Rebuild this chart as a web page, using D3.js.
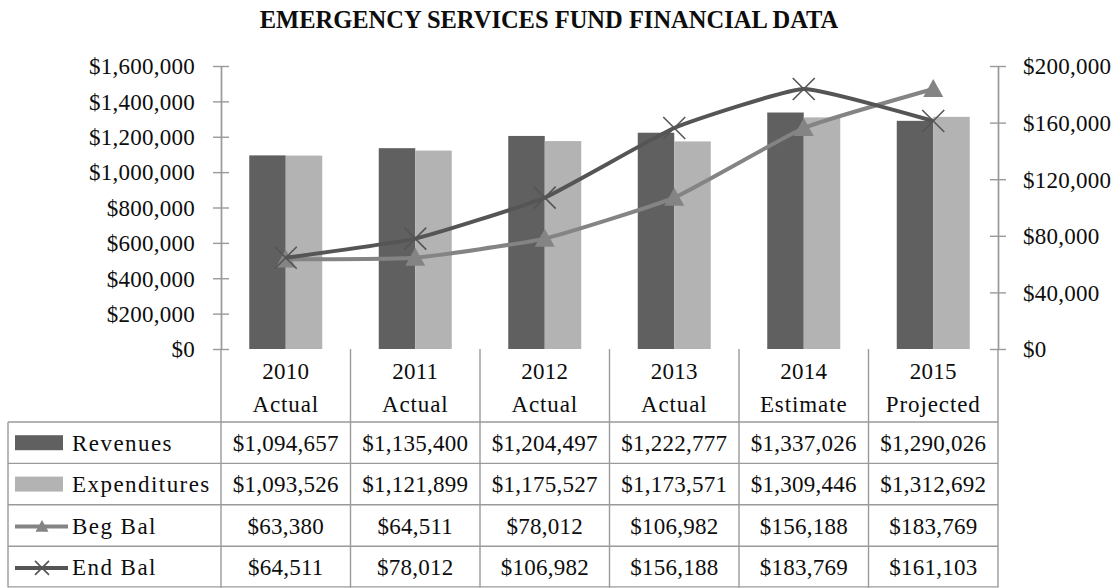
<!DOCTYPE html>
<html>
<head>
<meta charset="utf-8">
<script src="https://cdn.jsdelivr.net/npm/d3@7"></script>
<style>
  html, body { margin: 0; padding: 0; background: #fff; }
  svg { display: block; font-family: "Liberation Serif", "Times New Roman", serif; }
</style>
</head>
<body>
<svg id="chart" width="1118" height="588"></svg>
<script>
// Emergency Services Fund — revenues/expenditures (bars, left axis) and balances (lines, right axis)
const years = ["2010", "2011", "2012", "2013", "2014", "2015"];
const yearStatus = ["Actual", "Actual", "Actual", "Actual", "Estimate", "Projected"];
const revenues = [1094657, 1135400, 1204497, 1222777, 1337026, 1290026];
const expenditures = [1093526, 1121899, 1175527, 1173571, 1309446, 1312692];
const begBal = [63380, 64511, 78012, 106982, 156188, 183769];
const endBal = [64511, 78012, 106982, 156188, 183769, 161103];
const leftTicks = [0, 200000, 400000, 600000, 800000, 1000000, 1200000, 1400000, 1600000];
const rightTicks = [0, 40000, 80000, 120000, 160000, 200000];
const titleText = "EMERGENCY SERVICES FUND FINANCIAL DATA";

const barSeries = [
  { name: "Revenues", values: revenues, color: "#606060" },
  { name: "Expenditures", values: expenditures, color: "#b3b3b3" }
];
const lineSeries = [
  { name: "Beg Bal", values: begBal, color: "#848484", marker: "triangle" },
  { name: "End Bal", values: endBal, color: "#555555", marker: "cross" }
];

const svg = d3.select("#chart");
const plot = { left: 221, right: 998, top: 66, bottom: 349 };
const gridColor = "#9a9a9a";
const textColor = "#0d0d0d";
const fontSize = 23;
const numSpacing = "0.25px";
const wordSpacing = "1.45px";
const fmt = d3.format("$,");

const x = d3.scaleBand().domain(years).range([plot.left, plot.right]).padding(0);
const xSub = d3.scaleBand().domain(barSeries.map(s => s.name))
  .range([0, x.bandwidth()]).paddingInner(0).paddingOuter(0.774);
const y = d3.scaleLinear().domain([0, 1600000]).range([plot.bottom, plot.top]);
const y2 = d3.scaleLinear().domain([0, 200000]).range([plot.bottom, plot.top]);

// Title
svg.append("text")
  .attr("x", 549).attr("y", 28)
  .attr("text-anchor", "middle")
  .attr("font-weight", "bold")
  .attr("font-size", 24.5)
  .attr("fill", textColor)
  .text(titleText);

// Bars
barSeries.forEach(s => {
  svg.append("g").selectAll("rect")
    .data(s.values)
    .join("rect")
    .attr("x", (d, i) => x(years[i]) + xSub(s.name))
    .attr("width", xSub.bandwidth())
    .attr("y", d => y(d))
    .attr("height", d => y(0) - y(d))
    .attr("fill", s.color);
});

// Axes (ticks cross the axis line)
function styleAxis(g) {
  g.select(".domain").attr("stroke", gridColor).attr("stroke-width", 1.4);
  g.selectAll(".tick line").attr("stroke", gridColor).attr("stroke-width", 1.4);
  g.selectAll(".tick text")
    .attr("font-family", "Liberation Serif, serif")
    .attr("font-size", fontSize).attr("fill", textColor)
    .attr("letter-spacing", numSpacing)
    .attr("dy", "0.34em");
}
svg.append("g").attr("transform", `translate(${plot.left},0)`)
  .call(d3.axisLeft(y).tickValues(leftTicks).tickSize(8).tickSizeOuter(0).tickPadding(18).tickFormat(fmt))
  .call(styleAxis);
svg.append("g").attr("transform", `translate(${plot.left},0)`)
  .call(d3.axisRight(y).tickValues(leftTicks).tickSize(8).tickSizeOuter(0).tickFormat(""))
  .call(styleAxis);
svg.append("g").attr("transform", `translate(${plot.right},0)`)
  .call(d3.axisRight(y2).tickValues(rightTicks).tickSize(8).tickSizeOuter(0).tickPadding(17).tickFormat(fmt))
  .call(styleAxis);
svg.append("g").attr("transform", `translate(${plot.right},0)`)
  .call(d3.axisLeft(y2).tickValues(rightTicks).tickSize(8).tickSizeOuter(0).tickFormat(""))
  .call(styleAxis);

// Marker drawing
function drawMarker(g, type, cx, cy, size, color) {
  if (type === "triangle") {
    const h = size * 0.9;
    g.append("path")
      .attr("d", `M${cx},${cy - h * 0.55}L${cx + size / 2},${cy + h * 0.45}L${cx - size / 2},${cy + h * 0.45}Z`)
      .attr("fill", color);
  } else {
    const r = size / 2;
    g.append("path")
      .attr("d", `M${cx - r},${cy - r}L${cx + r},${cy + r}M${cx - r},${cy + r}L${cx + r},${cy - r}`)
      .attr("stroke", color).attr("stroke-width", 1.6).attr("fill", "none");
  }
}

// Balance lines (lightly smoothed)
const line = d3.line()
  .x((d, i) => x(years[i]) + x.bandwidth() / 2)
  .y(d => y2(d))
  .curve(d3.curveCardinal.tension(0.6));

lineSeries.forEach(s => {
  const g = svg.append("g");
  g.append("path")
    .attr("d", line(s.values))
    .attr("fill", "none")
    .attr("stroke", s.color)
    .attr("stroke-width", 4)
    .attr("stroke-linejoin", "round");
  s.values.forEach((v, i) => {
    drawMarker(g, s.marker, x(years[i]) + x.bandwidth() / 2, y2(v), s.marker === "triangle" ? 20 : 22, s.color);
  });
});

// Data table
const table = { left: 8, headerBottom: 422, rowH: 41.4 };
const rowTops = [0, 1, 2, 3].map(i => table.headerBottom + i * table.rowH);
const tableBottom = table.headerBottom + 4 * table.rowH;
const tg = svg.append("g");

// Horizontal grid lines
tg.append("line").attr("x1", table.left).attr("x2", plot.right)
  .attr("y1", table.headerBottom).attr("y2", table.headerBottom);
rowTops.slice(1).forEach(t => {
  tg.append("line").attr("x1", table.left).attr("x2", plot.right).attr("y1", t).attr("y2", t);
});
tg.append("line").attr("x1", table.left).attr("x2", plot.right)
  .attr("y1", tableBottom - 0.7).attr("y2", tableBottom - 0.7);
// Vertical grid lines
tg.append("line").attr("x1", table.left).attr("x2", table.left)
  .attr("y1", table.headerBottom).attr("y2", tableBottom);
years.forEach(yr => {
  tg.append("line").attr("x1", x(yr)).attr("x2", x(yr))
    .attr("y1", plot.bottom).attr("y2", tableBottom);
});
tg.append("line").attr("x1", plot.right).attr("x2", plot.right)
  .attr("y1", plot.bottom).attr("y2", tableBottom);
tg.selectAll("line").attr("stroke", gridColor).attr("stroke-width", 1.4);

// Header cells
years.forEach((yr, i) => {
  const cx = x(yr) + x.bandwidth() / 2;
  tg.append("text").attr("x", cx).attr("y", 379)
    .attr("text-anchor", "middle").attr("font-size", fontSize).attr("letter-spacing", numSpacing)
    .attr("fill", textColor).text(yr);
  tg.append("text").attr("x", cx).attr("y", 412)
    .attr("text-anchor", "middle").attr("font-size", fontSize).attr("letter-spacing", "0.9px")
    .attr("fill", textColor).text(yearStatus[i]);
});

// Body rows: legend key, name, values
const rows = [
  { s: barSeries[0], kind: "bar" },
  { s: barSeries[1], kind: "bar" },
  { s: lineSeries[0], kind: "line" },
  { s: lineSeries[1], kind: "line" }
];
rows.forEach((r, ri) => {
  const cy = rowTops[ri] + table.rowH / 2;
  if (r.kind === "bar") {
    tg.append("rect").attr("x", 15).attr("y", cy - 7.5).attr("width", 48).attr("height", 15)
      .attr("fill", r.s.color);
  } else {
    tg.append("line").attr("x1", 15).attr("x2", 68).attr("y1", cy + 1).attr("y2", cy + 1)
      .attr("stroke", r.s.color).attr("stroke-width", 4);
    drawMarker(tg, r.s.marker, 42, cy + 1, r.s.marker === "triangle" ? 13 : 14, r.s.color);
  }
  tg.append("text").attr("x", 72).attr("y", cy + 8)
    .attr("font-size", fontSize).attr("letter-spacing", wordSpacing).attr("fill", textColor)
    .text(r.s.name);
  r.s.values.forEach((v, i) => {
    tg.append("text").attr("x", x(years[i]) + x.bandwidth() / 2).attr("y", cy + 8)
      .attr("text-anchor", "middle").attr("font-size", fontSize).attr("letter-spacing", numSpacing)
      .attr("fill", textColor).text(fmt(v));
  });
});
</script>
</body>
</html>
